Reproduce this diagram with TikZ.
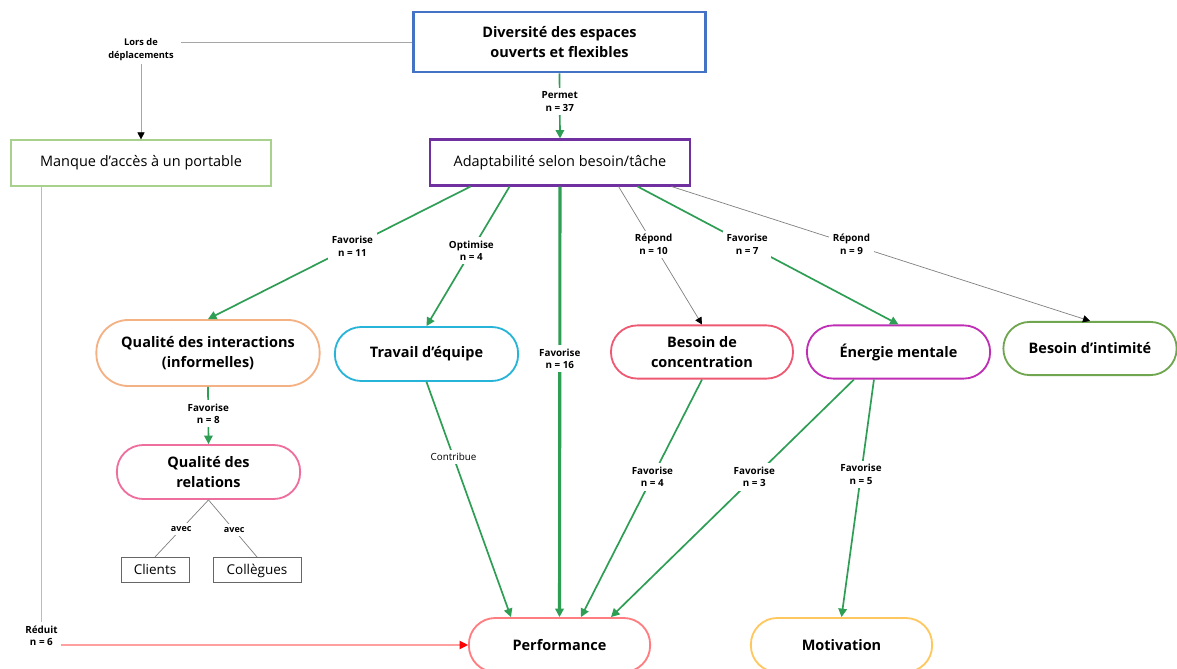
\documentclass[tikz,border=0pt]{standalone}
\usepackage{fontspec}
\setmainfont{Open Sans}
\usepackage{xcolor}
\usetikzlibrary{positioning,arrows.meta,calc}

\definecolor{boxblue}{HTML}{4472C4}
\definecolor{boxpurple}{HTML}{7030A0}
\definecolor{boxlime}{HTML}{A9D18E}
\definecolor{boxorange}{HTML}{F4B183}
\definecolor{boxcyan}{HTML}{27B4D9}
\definecolor{boxred}{HTML}{EE5A73}
\definecolor{boxmagenta}{HTML}{BF2FB5}
\definecolor{boxgreen}{HTML}{6FA64F}
\definecolor{boxpink}{HTML}{EE6E9E}
\definecolor{boxsalmon}{HTML}{FF7C80}
\definecolor{boxyellow}{HTML}{FFC85F}
\definecolor{linkgreen}{HTML}{2F9E55}
\definecolor{linkred}{HTML}{FFA0A0}

\begin{document}
\begin{tikzpicture}[
  x=0.025cm, y=-0.025cm,
  rectbox/.style={rectangle, draw, align=center, font=\fontsize{10.3}{14}\selectfont},
  pill/.style={rectangle, rounded corners=0.66cm, draw, line width=1.3pt, align=center,
               font=\fontsize{10.3}{14}\selectfont\bfseries, minimum height=1.33cm},
  smallbox/.style={rectangle, draw=gray!80!black, line width=0.6pt, minimum width=1.7cm,
                   minimum height=0.63cm, text height=1.6ex, text depth=0.5ex,
                   font=\fontsize{9.6}{12}\selectfont},
  garrow/.style={-{Triangle[length=6pt,width=6pt]}, draw=linkgreen, fill=linkgreen, line width=1.2pt},
  grarrow/.style={-{Triangle[length=5pt,width=5pt,color=black]}, draw=gray, line width=0.5pt},
  lbl/.style={font=\fontsize{7}{9}\selectfont\bfseries, fill=white, align=center, inner sep=2.5pt}
]
\useasboundingbox (0,0) rectangle (1177,669);
\fill[white] (0,0) rectangle (1177,669);

% Boxes
\node[rectbox, draw=boxblue, line width=2pt, minimum width=7.28cm, minimum height=1.5cm,
      font=\fontsize{10.3}{14}\selectfont\bfseries] (div) at (559.5,42) {Diversité des espaces\\ouverts et flexibles};
\node[rectbox, draw=boxpurple, line width=2pt, minimum width=6.5cm, minimum height=1.13cm] (adapt) at (560,162.5) {Adaptabilité selon besoin/tâche};
\node[rectbox, draw=boxlime, line width=0.8pt, minimum width=6.5cm, minimum height=1.15cm] (manque) at (141,163) {Manque d’accès à un portable};

% Pills
\node[pill, draw=boxorange, minimum width=5.58cm, minimum height=1.65cm, rounded corners=0.8cm] (qualint) at (208,353) {Qualité des interactions\\(informelles)};
\node[pill, draw=boxcyan, minimum width=4.58cm, minimum height=1.35cm] (travail) at (426.5,354) {Travail d’équipe};
\node[pill, draw=boxred, minimum width=4.55cm] (conc) at (702,352) {Besoin de\\concentration};
\node[pill, draw=boxmagenta, minimum width=4.58cm] (energie) at (898.5,352) {Énergie mentale};
\node[pill, draw=boxgreen, minimum width=4.33cm] (intim) at (1090,348.5) {Besoin d’intimité};
\node[pill, draw=boxpink, minimum width=4.58cm, minimum height=1.35cm] (rel) at (208.5,472) {Qualité des\\relations};
\node[pill, draw=boxsalmon, minimum width=4.53cm, minimum height=1.35cm] (perf) at (559.5,645) {Performance};
\node[pill, draw=boxyellow, minimum width=4.53cm, minimum height=1.35cm] (motiv) at (841.5,645) {Motivation};

% Small boxes
\node[smallbox] (clients) at (155,570) {Clients};
\node[smallbox, minimum width=2.2cm] (coll) at (257,570) {Collègues};

% Links from the top
\draw[grarrow, draw=gray!70] (div.west) -| node[lbl, pos=0.54, inner xsep=5pt, font=\fontsize{6.6}{9}\selectfont\bfseries]{Lors de\\déplacements} (manque.north);
\draw[garrow] (div.south) -- node[lbl, pos=0.43]{Permet\\n = 37} (adapt.north);

% Links from adaptability
\draw[garrow] ($(adapt.south west)+(42,0)$) -- node[lbl, pos=0.45]{Favorise\\n = 11} (qualint.north);
\draw[garrow] ($(adapt.south west)+(81,0)$) -- node[lbl, pos=0.46]{Optimise\\n = 4} (travail.north);
\draw[garrow, line width=2.2pt] (adapt.south) -- node[lbl, pos=0.4]{Favorise\\n = 16} (perf.north);
\draw[grarrow] ($(adapt.south west)+(190,0)$) -- node[lbl, pos=0.42]{Répond\\n = 10} (conc.north);
\draw[garrow] ($(adapt.south west)+(209,0)$) -- node[lbl, pos=0.42]{Favorise\\n = 7} (energie.north);
\draw[grarrow] ($(adapt.south west)+(243,0)$) -- node[lbl, pos=0.43]{Répond\\n = 9} (intim.north);

% Left branch
\draw[garrow] (qualint.south) -- node[lbl, pos=0.47]{Favorise\\n = 8} (rel.north);
\draw[draw=gray, line width=0.5pt] (rel.south) -- node[lbl, pos=0.51, font=\fontsize{6.4}{8}\selectfont\bfseries]{avec} (clients.north);
\draw[draw=gray, line width=0.5pt] (rel.south) -- node[lbl, pos=0.53, font=\fontsize{6.4}{8}\selectfont\bfseries]{avec} (coll.north);

% Towards performance and motivation
\draw[garrow] (travail.south) -- node[lbl, pos=0.32, font=\fontsize{7}{9}\selectfont]{Contribue} ($(perf.north west)+(43,0)$);
\draw[garrow] (conc.south) -- node[lbl, pos=0.41]{Favorise\\n = 4} ($(perf.north west)+(113,0)$);
\draw[garrow] ($(energie.south west)+(48,0)$) -- node[lbl, pos=0.41]{Favorise\\n = 3} ($(perf.north west)+(143,0)$);
\draw[garrow] ($(energie.south west)+(68,0)$) -- node[lbl, pos=0.4]{Favorise\\n = 5} (motiv.north);
\draw[draw=linkred, line width=0.8pt, -{Triangle[length=6pt,width=6pt,color=red]}] ($(manque.south west)+(31,0)$) |- node[lbl, pos=0.49]{Réduit\\n = 6} (perf.west);
\end{tikzpicture}
\end{document}
